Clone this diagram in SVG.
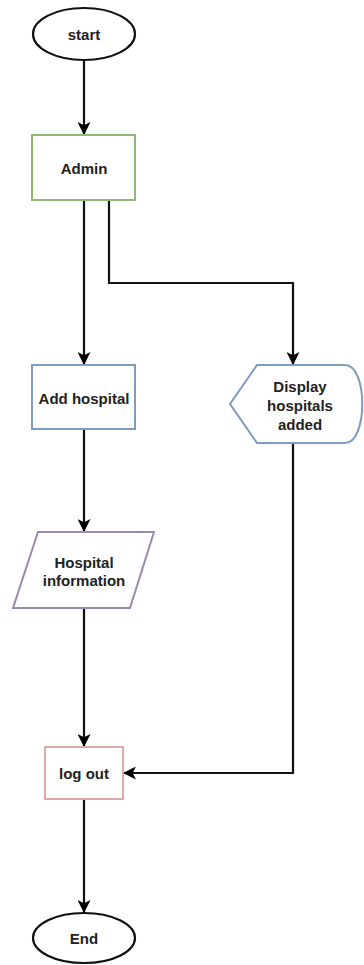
<svg xmlns="http://www.w3.org/2000/svg" width="364" height="965" viewBox="0 0 364 965">
  <defs>
    <marker id="arrow" viewBox="0 0 12 12" refX="11" refY="6" markerWidth="13" markerHeight="13" markerUnits="userSpaceOnUse" orient="auto">
      <path d="M0,0 L12,6 L0,12 L3,6 Z" fill="#000"/>
    </marker>
    <style>
      .edge { fill: none; stroke: #111; stroke-width: 2.2; marker-end: url(#arrow); }
      .term { fill: #fff; stroke: #111; stroke-width: 2.2; }
      .box { fill: #fff; stroke-width: 2; }
      .lbl { font-family: "Liberation Sans", Arial, sans-serif; font-weight: bold; font-size: 15px; fill: #222; text-anchor: middle; dominant-baseline: central; }
    </style>
  </defs>
  <rect width="364" height="965" fill="#fff"/>

  <g id="connectors">
    <path class="edge" d="M84,60 L84,134"/>
    <path class="edge" d="M84,200 L84,364"/>
    <path class="edge" d="M109,200 L109,283 L293,283 L293,364"/>
    <path class="edge" d="M84,429 L84,531"/>
    <path class="edge" d="M84,608 L84,746"/>
    <path class="edge" d="M293,443 L293,773 L124,773"/>
    <path class="edge" d="M84,799 L84,912"/>
  </g>

  <g id="start">
    <ellipse class="term" cx="84" cy="34" rx="51" ry="26"/>
    <text class="lbl" x="84" y="34">start</text>
  </g>

  <g id="admin">
    <rect class="box" x="32" y="135" width="103" height="65" stroke="#8fb873"/>
    <text class="lbl" x="84" y="168">Admin</text>
  </g>

  <g id="add-hospital">
    <rect class="box" x="32" y="365" width="103" height="64" stroke="#7f9bbd"/>
    <text class="lbl" x="84" y="398">Add hospital</text>
  </g>

  <g id="display-hospitals">
    <path class="box" d="M230,404 L257,365 L345,365 C368,365 368,443 345,443 L257,443 Z" stroke="#7f9bbd"/>
    <text class="lbl" x="300" y="386">Display</text>
    <text class="lbl" x="300" y="405">hospitals</text>
    <text class="lbl" x="300" y="424">added</text>
  </g>

  <g id="hospital-information">
    <path class="box" d="M38,532 L154,532 L130,608 L13,608 Z" stroke="#9d88b3"/>
    <text class="lbl" x="84" y="562">Hospital</text>
    <text class="lbl" x="84" y="580">information</text>
  </g>

  <g id="log-out">
    <rect class="box" x="45" y="747" width="78" height="52" stroke="#dcaaa8"/>
    <text class="lbl" x="84" y="773">log out</text>
  </g>

  <g id="end">
    <ellipse class="term" cx="84" cy="938" rx="51" ry="25"/>
    <text class="lbl" x="84" y="938">End</text>
  </g>
</svg>
